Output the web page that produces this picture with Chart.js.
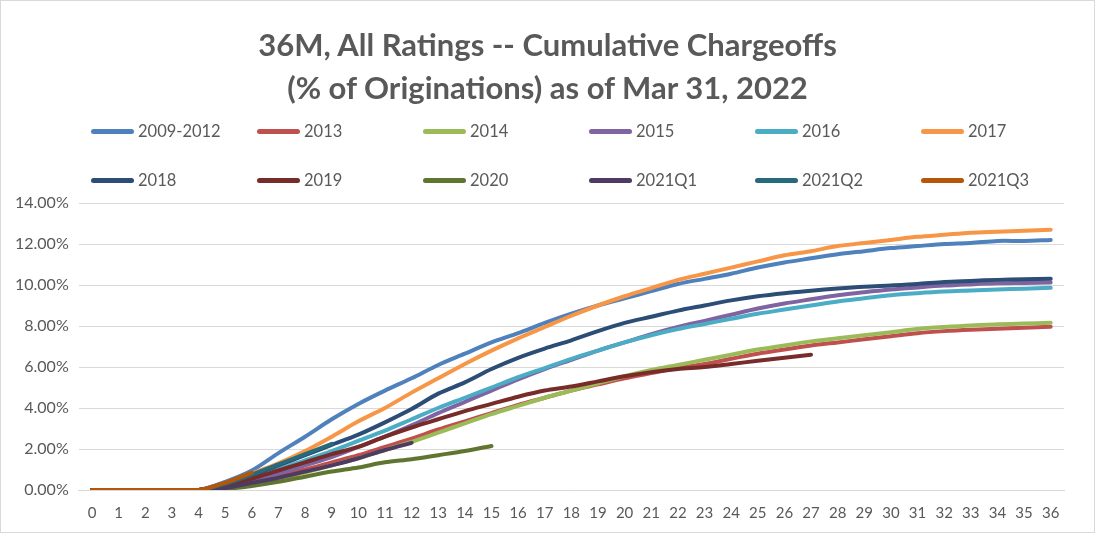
<!DOCTYPE html>
<html>
<head>
<meta charset="utf-8">
<script src="https://cdn.jsdelivr.net/npm/chart.js@4"></script>
<style>
  body { margin: 0; background: #fff; }
  #wrap { position: relative; width: 1095px; height: 533px; box-sizing: border-box; border: 1px solid #d9d9d9; overflow: hidden; font-family: Lato, "Open Sans", sans-serif; }
  #title { position: absolute; left: 0; right: 0; top: 22px; text-align: center; font-weight: bold; font-size: 31px; line-height: 43px; color: #595959; }
  #legend .item { position: absolute; height: 20px; display: flex; align-items: center; font-size: 16.5px; color: #595959; white-space: nowrap; }
  #legend .swatch { width: 43px; height: 5px; border-radius: 3px; margin-right: 4px; }
  canvas { position: absolute; left: 0; top: 0; }
</style>
</head>
<body>
<div id="wrap">
  <canvas id="chargeoffChart" width="1095" height="533"></canvas>
  <div id="title">36M, All Ratings -- Cumulative Chargeoffs<br>(% of Originations) as of Mar 31, 2022</div>
  <div id="legend"></div>
</div>
<script>
// months on book
const months = ['0','1','2','3','4','5','6','7','8','9','10','11','12','13','14','15','16','17','18','19','20','21','22','23','24','25','26','27','28','29','30','31','32','33','34','35','36'];

// cumulative chargeoffs, % of originations
const v2009_2012 = [0,0,0,0,0,0.4,0.95,1.8,2.6,3.45,4.2,4.85,5.45,6.1,6.65,7.2,7.65,8.15,8.6,9.0,9.35,9.7,10.05,10.3,10.55,10.85,11.1,11.3,11.5,11.65,11.8,11.9,12.0,12.05,12.15,12.15,12.2];
const v2013 = [0,0,0,0,0,0.15,0.4,0.7,1.0,1.35,1.7,2.1,2.5,2.95,3.35,3.75,4.15,4.5,4.85,5.15,5.45,5.7,5.95,6.15,6.4,6.65,6.85,7.05,7.2,7.35,7.5,7.65,7.75,7.82,7.87,7.92,7.96];
const v2014 = [0,0,0,0,0,0.1,0.3,0.55,0.85,1.2,1.55,1.95,2.35,2.8,3.25,3.7,4.1,4.5,4.85,5.2,5.55,5.85,6.1,6.35,6.6,6.85,7.05,7.25,7.4,7.55,7.7,7.85,7.95,8.03,8.08,8.12,8.16];
const v2015 = [0,0,0,0,0,0.15,0.4,0.8,1.2,1.6,2.1,2.6,3.15,3.75,4.3,4.85,5.4,5.9,6.35,6.8,7.2,7.6,7.95,8.25,8.55,8.85,9.1,9.3,9.5,9.65,9.78,9.88,9.97,10.03,10.08,10.1,10.12];
const v2016 = [0,0,0,0,0,0.2,0.6,1.0,1.45,1.9,2.4,2.9,3.45,4.0,4.5,5.0,5.5,5.95,6.4,6.8,7.2,7.55,7.85,8.1,8.35,8.6,8.8,9.0,9.2,9.35,9.5,9.6,9.68,9.73,9.78,9.82,9.86];
const v2017 = [0,0,0,0,0,0.3,0.8,1.3,1.9,2.6,3.35,4.0,4.75,5.45,6.15,6.8,7.4,7.95,8.5,9.0,9.45,9.85,10.25,10.55,10.85,11.15,11.45,11.65,11.9,12.05,12.2,12.35,12.45,12.55,12.6,12.65,12.7];
const v2018 = [0,0,0,0,0,0.25,0.7,1.2,1.7,2.2,2.7,3.3,3.95,4.7,5.25,5.9,6.45,6.9,7.3,7.75,8.15,8.45,8.75,9.0,9.25,9.45,9.6,9.72,9.83,9.92,9.98,10.05,10.15,10.2,10.25,10.28,10.3];
const v2019 = [0,0,0,0,0,0.2,0.55,0.95,1.35,1.75,2.1,2.6,3.05,3.45,3.85,4.2,4.55,4.85,5.05,5.3,5.55,5.75,5.9,6.0,6.15,6.3,6.45,6.6];
const v2020 = [0,0,0,0,0,0.05,0.2,0.4,0.65,0.9,1.1,1.35,1.5,1.7,1.9,2.15];
const v2021Q1 = [0,0,0,0,0,0.1,0.35,0.6,0.9,1.2,1.55,1.95,2.3];
const v2021Q2 = [0,0,0,0,0,0.3,0.75,1.25,1.75,2.25];
const v2021Q3 = [0,0,0,0,0,0.35,0.85];

const seriesNames = ['2009-2012','2013','2014','2015','2016','2017','2018','2019','2020','2021Q1','2021Q2','2021Q3'];
const seriesData = [v2009_2012, v2013, v2014, v2015, v2016, v2017, v2018, v2019, v2020, v2021Q1, v2021Q2, v2021Q3];
const seriesColors = ['#4F81BD','#C0504D','#9BBB59','#8064A2','#4BACC6','#F79646','#2C4D75','#772C2A','#5F7530','#4D3B62','#276A7C','#B65708'];

// legend, 6 columns x 2 rows like the excel one
var legend = document.getElementById('legend');
seriesNames.forEach(function(name, i) {
    var item = document.createElement('div');
    item.className = 'item';
    item.style.left = (90 + (i % 6) * 166) + 'px';
    item.style.top = (i < 6 ? 120 : 169) + 'px';
    item.innerHTML = '<span class="swatch" style="background:' + seriesColors[i] + '"></span>' + name;
    legend.appendChild(item);
});

var ctx = document.getElementById('chargeoffChart').getContext('2d');
new Chart(ctx, {
    type: 'line',
    data: {
        labels: months,
        datasets: seriesNames.map(function(name, i) {
            return {
                label: name,
                data: seriesData[i],
                borderColor: seriesColors[i],
                backgroundColor: seriesColors[i],
                borderWidth: 4,
                pointRadius: 0,
                tension: 0.3,
                borderCapStyle: 'round',
                fill: false,
                order: seriesNames.length - i // later series on top
            };
        })
    },
    options: {
        responsive: false,
        animation: false,
        layout: { padding: { top: 202, left: 4, right: 32, bottom: 6 } },
        plugins: {
            legend: { display: false },
            title: { display: false },
            tooltip: { enabled: false }
        },
        scales: {
            x: {
                offset: true,
                grid: { display: false },
                border: { color: '#d9d9d9', width: 1 },
                ticks: { color: '#595959', font: { family: 'Lato', size: 15 }, maxRotation: 0, autoSkip: false, padding: 6 }
            },
            y: {
                min: 0,
                max: 14,
                grid: { color: '#d9d9d9', lineWidth: 1, drawTicks: false },
                border: { display: false },
                ticks: {
                    stepSize: 2,
                    color: '#595959',
                    font: { family: 'Lato', size: 16 },
                    padding: 10,
                    callback: function(v) { return v.toFixed(2) + '%'; }
                }
            }
        }
    }
});
</script>
</body>
</html>
